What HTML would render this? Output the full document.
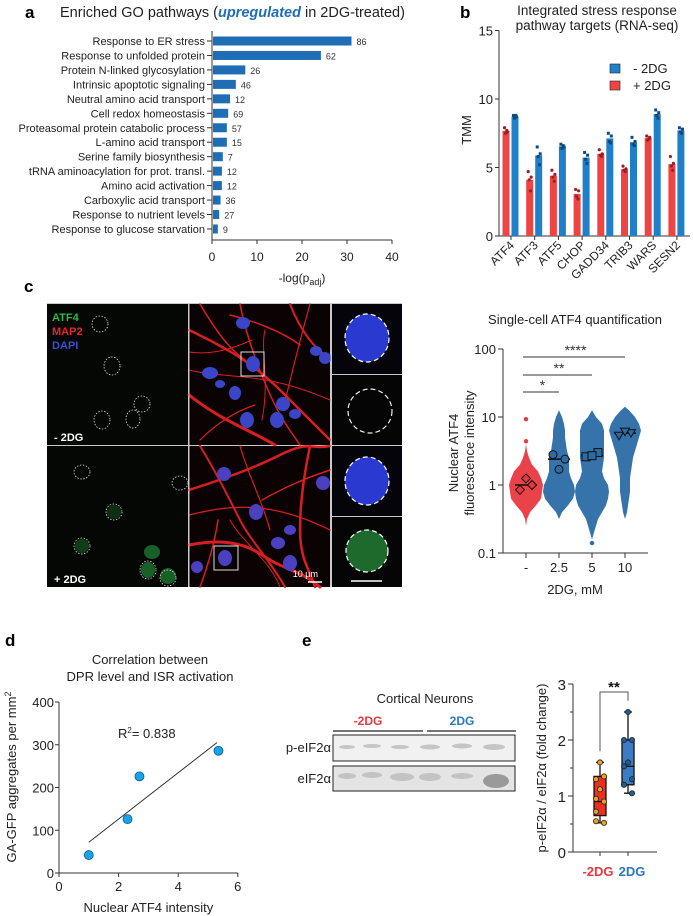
<!DOCTYPE html>
<html><head><meta charset="utf-8">
<style>
html,body{margin:0;padding:0;background:#fff;}
svg{display:block;font-family:"Liberation Sans",Arial,sans-serif;}
</style></head>
<body>
<svg id="fig" width="693" height="916" viewBox="0 0 693 916" xmlns="http://www.w3.org/2000/svg">
<!-- Panel letters -->
<text x="25" y="18" font-size="17" font-weight="bold">a</text>
<text x="460" y="18" font-size="17" font-weight="bold">b</text>
<text x="24" y="292" font-size="17" font-weight="bold">c</text>
<text x="5" y="646" font-size="17" font-weight="bold">d</text>
<text x="302" y="646" font-size="17" font-weight="bold">e</text>

<!-- Panel a title -->
<text x="60" y="17" font-size="14.5" fill="#222">Enriched GO pathways (<tspan fill="#1f6db5" font-weight="bold" font-style="italic">upregulated</tspan> in 2DG-treated)</text>
<g id="pa"></g>

<!-- Panel b -->
<text x="597" y="15" font-size="13.5" text-anchor="middle" fill="#222">Integrated stress response</text>
<text x="597" y="30" font-size="13.5" text-anchor="middle" fill="#222">pathway targets (RNA-seq)</text>
<g id="pb"></g>

<!-- Panel c images -->
<g>
  <rect x="47" y="303" width="355" height="284" fill="#c8c8c8"/>
  <rect x="47" y="304" width="141" height="141" fill="#050705"/>
  <rect x="47" y="446" width="141" height="141" fill="#050705"/>
  <rect x="189" y="304" width="141" height="141" fill="#0a0203"/>
  <rect x="189" y="446" width="141" height="141" fill="#0a0203"/>
  <rect x="332" y="304" width="70" height="70" fill="#04040a"/>
  <rect x="332" y="375" width="70" height="70" fill="#040504"/>
  <rect x="332" y="446" width="70" height="70" fill="#04040a"/>
  <rect x="332" y="517" width="70" height="70" fill="#040504"/>
  <!-- left dashed nuclei top -->
  <g fill="none" stroke="#ddd" stroke-width="0.8" stroke-dasharray="1.5,1.5">
    <ellipse cx="100" cy="324" rx="8" ry="8"/>
    <ellipse cx="112" cy="366" rx="8" ry="9"/>
    <ellipse cx="142" cy="404" rx="8" ry="8"/>
    <ellipse cx="102" cy="420" rx="8" ry="9"/>
    <ellipse cx="133" cy="419" rx="7" ry="9"/>
    <ellipse cx="82" cy="472" rx="8" ry="7"/>
    <ellipse cx="180" cy="483" rx="8" ry="7"/>
    <ellipse cx="114" cy="512" rx="8" ry="8"/>
    <ellipse cx="82" cy="546" rx="8" ry="8"/>
  </g>
  <g fill="#1c6a2a" opacity="0.9">
    <ellipse cx="114" cy="512" rx="7" ry="7" opacity="0.45"/>
    <ellipse cx="82" cy="546" rx="7" ry="7" opacity="0.6"/>
    <ellipse cx="152" cy="552" rx="8" ry="7"/>
    <ellipse cx="148" cy="570" rx="7" ry="8"/>
    <ellipse cx="168" cy="576" rx="8" ry="8"/>
  </g>
  <g fill="none" stroke="#ddd" stroke-width="0.8" stroke-dasharray="1.5,1.5">
    <ellipse cx="148" cy="570" rx="8" ry="9"/><ellipse cx="168" cy="578" rx="8" ry="8"/>
  </g>
  <text x="52" y="321" font-size="11" font-weight="bold" fill="#2db84a">ATF4</text>
  <text x="52" y="335" font-size="11" font-weight="bold" fill="#e8262a">MAP2</text>
  <text x="52" y="349" font-size="11" font-weight="bold" fill="#3b4fd0">DAPI</text>
  <text x="54" y="441" font-size="11" font-weight="bold" fill="#fff">- 2DG</text>
  <text x="54" y="583" font-size="11" font-weight="bold" fill="#fff">+ 2DG</text>
  <!-- neurites top -->
  <g fill="none" stroke="#d81e22" stroke-linecap="round">
    <path d="M189 330 C220 345 250 360 280 390 S320 430 330 440" stroke-width="2.5"/>
    <path d="M200 304 C215 330 230 350 245 360" stroke-width="1.5"/>
    <path d="M189 395 C220 420 250 430 275 445" stroke-width="3"/>
    <path d="M240 304 C245 330 255 360 268 390 S290 430 300 445" stroke-width="1.5"/>
    <path d="M290 304 C300 330 315 350 330 358" stroke-width="2"/>
    <path d="M189 370 C230 380 260 370 330 400" stroke-width="1"/>
    <path d="M230 315 C250 320 280 330 300 345" stroke-width="1.5"/>
    <path d="M310 304 C300 340 290 380 283 410" stroke-width="1.2"/>
    <path d="M200 440 C220 420 240 410 255 405" stroke-width="1.2"/>
    <path d="M265 330 C260 350 270 380 262 420" stroke-width="1"/>
    <path d="M189 352 C210 355 230 350 252 340" stroke-width="1"/>
  </g>
  <g fill="#3a45c8">
    <ellipse cx="243" cy="323" rx="7" ry="6"/>
    <ellipse cx="253" cy="364" rx="7" ry="8"/>
    <ellipse cx="210" cy="373" rx="8" ry="6"/>
    <ellipse cx="220" cy="384" rx="5" ry="4"/>
    <ellipse cx="235" cy="393" rx="6" ry="7"/>
    <ellipse cx="316" cy="351" rx="6" ry="5"/>
    <ellipse cx="325" cy="358" rx="6" ry="6"/>
    <ellipse cx="283" cy="404" rx="7" ry="7"/>
    <ellipse cx="295" cy="414" rx="6" ry="5"/>
    <ellipse cx="247" cy="420" rx="7" ry="8"/>
    <ellipse cx="277" cy="420" rx="7" ry="8"/>
  </g>
  <rect x="241" y="352" width="23" height="24" fill="none" stroke="#ddd" stroke-width="1"/>
  <!-- neurites bottom -->
  <g fill="none" stroke="#d81e22" stroke-linecap="round">
    <path d="M189 490 C220 480 250 470 280 455 S310 450 330 446" stroke-width="2.5"/>
    <path d="M200 446 C215 470 230 500 240 520 S270 560 285 587" stroke-width="2"/>
    <path d="M189 545 C215 540 240 540 262 555 S300 570 320 587" stroke-width="3"/>
    <path d="M310 446 C305 470 300 500 300 530 S310 570 315 587" stroke-width="2.5"/>
    <path d="M189 515 C230 505 270 500 330 530" stroke-width="1.2"/>
    <path d="M240 446 C250 480 262 500 270 530" stroke-width="1.2"/>
    <path d="M280 587 C270 560 240 540 230 520" stroke-width="1"/>
    <path d="M330 470 C300 480 280 490 262 500" stroke-width="1.5"/>
    <path d="M200 587 C210 560 215 540 218 520" stroke-width="1.5"/>
  </g>
  <g fill="#4a40c0">
    <ellipse cx="224" cy="474" rx="7" ry="7"/>
    <ellipse cx="323" cy="483" rx="7" ry="7"/>
    <ellipse cx="256" cy="512" rx="7" ry="8"/>
    <ellipse cx="225" cy="558" rx="7" ry="8"/>
    <ellipse cx="290" cy="530" rx="6" ry="5"/>
    <ellipse cx="278" cy="543" rx="7" ry="6"/>
    <ellipse cx="290" cy="563" rx="7" ry="8"/>
    <ellipse cx="197" cy="567" rx="6" ry="6"/>
  </g>
  <rect x="214" y="546" width="24" height="24" fill="none" stroke="#ddd" stroke-width="1"/>
  <text x="318" y="577" font-size="9" fill="#fff" text-anchor="end">10 µm</text>
  <line x1="308" y1="582" x2="322" y2="582" stroke="#fff" stroke-width="1.5"/>
  <!-- zoom tiles -->
  <ellipse cx="367" cy="338" rx="22" ry="24" fill="#2a3ad0"/>
  <ellipse cx="367" cy="338" rx="22" ry="24" fill="none" stroke="#fff" stroke-width="1.2" stroke-dasharray="5,3"/>
  <ellipse cx="370" cy="411" rx="22" ry="22" fill="none" stroke="#eee" stroke-width="1.2" stroke-dasharray="5,3"/>
  <ellipse cx="367" cy="481" rx="22" ry="24" fill="#2a3ad0"/>
  <ellipse cx="367" cy="481" rx="22" ry="24" fill="none" stroke="#fff" stroke-width="1.2" stroke-dasharray="5,3"/>
  <ellipse cx="367" cy="551" rx="21" ry="21" fill="#1e6a2c"/>
  <ellipse cx="367" cy="551" rx="21" ry="21" fill="none" stroke="#fff" stroke-width="1.2" stroke-dasharray="5,3"/>
  <line x1="351" y1="581" x2="382" y2="581" stroke="#fff" stroke-width="1.5"/>
  <line x1="189" y1="303" x2="189" y2="587" stroke="#ccc" stroke-width="1"/>
  <line x1="331" y1="303" x2="331" y2="587" stroke="#ccc" stroke-width="1"/>
</g>

<!-- Panel c chart -->
<text x="575" y="324" font-size="13" text-anchor="middle" fill="#222">Single-cell ATF4 quantification</text>
<g id="pc"></g>

<!-- Panel d -->
<text x="150" y="664" font-size="13" text-anchor="middle" fill="#222">Correlation between</text>
<text x="150" y="681" font-size="13" text-anchor="middle" fill="#222">DPR level and ISR activation</text>
<g id="pd"></g>

<!-- Panel e blot -->
<g>
  <text x="425" y="703" font-size="13" text-anchor="middle" fill="#222">Cortical Neurons</text>
  <text x="368" y="725" font-size="12" font-weight="bold" text-anchor="middle" fill="#e8383f">-2DG</text>
  <text x="462" y="725" font-size="12" font-weight="bold" text-anchor="middle" fill="#2a78c0">2DG</text>
  <line x1="333" y1="731" x2="423" y2="731" stroke="#222" stroke-width="1.2"/>
  <line x1="427" y1="731" x2="516" y2="731" stroke="#222" stroke-width="1.2"/>
  <rect x="333" y="735" width="182" height="26" fill="#f1f1f1" stroke="#222" stroke-width="1"/>
  <rect x="333" y="766" width="182" height="25" fill="#e4e4e4" stroke="#222" stroke-width="1"/>
  <g fill="#bbb" opacity="0.8">
    <ellipse cx="347" cy="747" rx="8" ry="2"/><ellipse cx="372" cy="746" rx="9" ry="2"/><ellipse cx="400" cy="747" rx="9" ry="2"/>
    <ellipse cx="430" cy="747" rx="10" ry="2.5"/><ellipse cx="462" cy="746" rx="10" ry="2.5"/><ellipse cx="494" cy="747" rx="11" ry="3"/>
    <ellipse cx="347" cy="776" rx="9" ry="3"/><ellipse cx="372" cy="775" rx="10" ry="3"/><ellipse cx="402" cy="777" rx="12" ry="4"/>
    <ellipse cx="430" cy="777" rx="11" ry="4"/><ellipse cx="462" cy="776" rx="11" ry="3"/><ellipse cx="496" cy="781" rx="13" ry="7" fill="#888"/>
  </g>
  <text x="331" y="752" font-size="13" text-anchor="end" fill="#222">p-eIF2α</text>
  <text x="331" y="783" font-size="13" text-anchor="end" fill="#222">eIF2α</text>
</g>
<g id="pe"></g>
</svg>

<script>
// ---------- Panel a data ----------
const goTerms = ["Response to ER stress","Response to unfolded protein","Protein N-linked glycosylation","Intrinsic apoptotic signaling","Neutral amino acid transport","Cell redox homeostasis","Proteasomal protein catabolic process","L-amino acid transport","Serine family biosynthesis","tRNA aminoacylation for prot. transl.","Amino acid activation","Carboxylic acid transport","Response to nutrient levels","Response to glucose starvation"];
const goScores = [31, 24.2, 7.4, 5.3, 4.0, 3.6, 3.3, 3.3, 2.4, 2.2, 2.2, 1.9, 1.6, 1.3];
const goCounts = [86, 62, 26, 46, 12, 69, 57, 15, 7, 12, 12, 36, 27, 9];
const goTicks = [0, 10, 20, 30, 40];

// ---------- Panel b data ----------
const genes = ["ATF4","ATF3","ATF5","CHOP","GADD34","TRIB3","WARS","SESN2"];
const plusReps = [[7.9,7.6,7.5,7.7],[4.7,4.3,4.1,3.3],[4.8,4.5,4.3,4.0],[3.4,3.3,2.9,2.7],[6.3,6.0,5.9,5.8],[5.1,4.9,4.8,4.7],[7.3,7.2,7.0,7.1],[5.8,5.3,5.1,4.8]];
const minusReps = [[8.8,8.7,8.6,8.8],[6.5,6.0,5.8,5.2],[6.7,6.5,6.4,6.6],[6.1,5.9,5.6,5.3],[7.5,7.3,6.9,6.8],[7.2,6.9,6.7,6.6],[9.2,9.0,8.8,8.6],[7.9,7.8,7.6,7.5]];
const tmmTicks = [0, 5, 10, 15];

// ---------- Panel c data ----------
const doseLabels = ["-", "2.5", "5", "10"];
const logLevels = [-0.9,-0.8,-0.7,-0.6,-0.5,-0.4,-0.3,-0.2,-0.1,0,0.1,0.2,0.3,0.4,0.5,0.6,0.7,0.8,0.9,1.0,1.1,1.15];
const density0 = [0,0,0,0,1,4,10,15,16,17,15,12,6,3,1,0,0,0,0,0,0,0];
const density1 = [0,0,0,0,0,3,9,14,16,15,12,10,10,10,8,7,6,6,5,3,0,0];
const density2 = [0,0,2,4,6,10,14,16,17,16,12,10,11,12,12,12,12,12,10,4,0,0];
const density3 = [0,0,0,0,0,2,3,4,5,5,5,6,7,8,10,12,14,16,14,10,4,0];
const outliers0 = [9.3, 4.4];
const outliers2 = [0.14];
const groupMeans = [1.0, 2.4, 2.7, 5.8];
const repMeans0 = [0.85, 1.0, 1.25];
const repMeans1 = [2.8, 2.4, 1.7];
const repMeans2 = [2.6, 3.0, 2.7];
const repMeans3 = [5.3, 5.8, 6.1];
const logTicks = [0.1, 1, 10, 100];
const sigLabels = ["*", "**", "****"];
const sigTargets = [1, 2, 3];

// ---------- Panel d data ----------
const atf4Intensity = [1.0, 2.3, 2.7, 5.35];
const aggregates = [42, 126, 226, 286];
const fitX = [1.0, 5.3];
const fitY = [72, 305];
const dXTicks = [0, 2, 4, 6];
const dYTicks = [0, 100, 200, 300, 400];

// ---------- Panel e data ----------
const eGroups = ["-2DG", "2DG"];
const ePoints0 = [1.6, 1.35, 1.3, 1.12, 0.95, 0.9, 0.72, 0.55, 0.52];
const ePoints1 = [2.5, 2.0, 2.0, 1.6, 1.53, 1.3, 1.2, 1.2, 1.05];
const eBox0 = [0.52, 0.65, 0.9, 1.35, 1.6];
const eBox1 = [1.05, 1.2, 1.53, 2.0, 2.5];
const eTicks = [0, 1, 2, 3];

const NS = "http://www.w3.org/2000/svg";
function mk(parent, tag, attrs, text) {
  const e = document.createElementNS(NS, tag);
  for (const k in attrs) e.setAttribute(k, attrs[k]);
  if (text !== undefined) e.textContent = text;
  parent.appendChild(e);
  return e;
}

// ===== Panel a =====
(function(){
  const g = document.getElementById("pa");
  const x0 = 212, pxPer = 4.5, y0 = 41, step = 14.46;
  const xs = v => x0 + v * pxPer;
  const ys = i => y0 + i * step;
  const ax = mk(g, "line", {x1:x0, y1:31, x2:x0, y2:240, stroke:"#333", "stroke-width":1});
  
  
  const xa = mk(g, "line", {x1:x0, y1:240, x2:xs(40), y2:240, stroke:"#333", "stroke-width":1});
  
  
  goTicks.forEach(t => {
    mk(g, "line", {x1:xs(t), y1:240, x2:xs(t), y2:244, stroke:"#333"});
    const tl = mk(g, "text", {x:xs(t), y:261, "font-size":12, "text-anchor":"middle", fill:"#222"}, t);
    
    
  });
  const xt = mk(g, "text", {x:xs(20), y:282, "font-size":12, "text-anchor":"middle", fill:"#222"});
  
  
  xt.innerHTML = '-log(p<tspan font-size="9" dy="3">adj</tspan><tspan dy="-3">)</tspan>';
  goTerms.forEach((t, i) => {
    const y = ys(i);
    mk(g, "line", {x1:x0-5, y1:y, x2:x0, y2:y, stroke:"#333"});
    const lab = mk(g, "text", {x:x0-7, y:y+4, "font-size":11, "text-anchor":"end", fill:"#222"}, t);
    
    
    const b = mk(g, "rect", {x:x0+1, y:y-4.5, width:Math.max(0, xs(goScores[i]) - x0 - 1), height:9, fill:"#1f6db5"});
    
    
    const c = mk(g, "text", {x:xs(goScores[i]) + 5, y:y+4, "font-size":9, fill:"#333"}, goCounts[i]);
    
    
  });
})();

// ===== Panel b =====
(function(){
  const g = document.getElementById("pb");
  const xAxis = 499, yZero = 236, pxPer = 13.7, x1 = 511, stepX = 23.7;
  const ys = v => yZero - v * pxPer;
  const xs = i => x1 + i * stepX;
  mk(g, "line", {x1:xAxis, y1:ys(15), x2:xAxis, y2:yZero, stroke:"#333"});
  mk(g, "line", {x1:xAxis, y1:yZero, x2:690, y2:yZero, stroke:"#333"});
  tmmTicks.forEach(t => {
    mk(g, "line", {x1:xAxis-4, y1:ys(t), x2:xAxis, y2:ys(t), stroke:"#333"});
    const tl = mk(g, "text", {x:xAxis-6, y:ys(t)+5, "font-size":13, "text-anchor":"end", fill:"#222"}, t);
    
    
  });
  const yl = mk(g, "text", {x:0, y:0, "font-size":13, "text-anchor":"middle", fill:"#222", transform:"translate(471,130) rotate(-90)"}, "TMM");
  
  
  const mean = a => a.reduce((s, v) => s + v, 0) / a.length;
  const jit = [-1.5, 1.5, -0.5, 0.8];
  genes.forEach((gn, i) => {
    const cx = xs(i);
    mk(g, "line", {x1:cx, y1:yZero, x2:cx, y2:yZero+4, stroke:"#333"});
    const rm = mean(plusReps[i]), bm = mean(minusReps[i]);
    const rb = mk(g, "rect", {x:cx-8.5, y:ys(rm), width:7, height:yZero-ys(rm), fill:"#ef4444"});
    
    
    const bb = mk(g, "rect", {x:cx+0.5, y:ys(bm), width:7, height:yZero-ys(bm), fill:"#1f7fc8"});
    
    
    plusReps[i].forEach((v, k) => {
      const d = mk(g, "circle", {cx:cx-5+jit[k], cy:ys(v), r:1.6, fill:"#a31d24"});
      
      
    });
    minusReps[i].forEach((v, k) => {
      const d = mk(g, "rect", {x:cx+4+jit[k]-1.5, y:ys(v)-1.5, width:3, height:3, fill:"#0d4a80"});
      
      
    });
    const lab = mk(g, "text", {x:0, y:0, "font-size":12, "text-anchor":"end", fill:"#222", transform:`translate(${cx+4},${yZero+10}) rotate(-45)`}, gn);
    
    
  });
  const l1 = mk(g, "rect", {x:610, y:64, width:10, height:9, fill:"#1f7fc8", stroke:"#222", "stroke-width":0.6});
  
  
  const l2 = mk(g, "rect", {x:610, y:81, width:10, height:9, fill:"#ef4444", stroke:"#222", "stroke-width":0.6});
  
  
  const t1 = mk(g, "text", {x:633, y:73, "font-size":13, fill:"#222"}, "- 2DG");
  
  
  const t2 = mk(g, "text", {x:633, y:90, "font-size":13, fill:"#222"}, "+ 2DG");
  
  
})();

// ===== Panel c chart =====
(function(){
  const g = document.getElementById("pc");
  const xAxis = 503, yBase = 553, dec = 68, x1 = 526, stepX = 33;
  const ys = v => yBase - (Math.log10(v) + 1) * dec;
  const yl = l => yBase - (l + 1) * dec;
  const xs = i => x1 + i * stepX;
  mk(g, "line", {x1:xAxis, y1:ys(100), x2:xAxis, y2:yBase, stroke:"#333"});
  mk(g, "line", {x1:xAxis, y1:yBase, x2:648, y2:yBase, stroke:"#333"});
  logTicks.forEach(t => {
    mk(g, "line", {x1:xAxis-5, y1:ys(t), x2:xAxis, y2:ys(t), stroke:"#333"});
    const tl = mk(g, "text", {x:xAxis-7, y:ys(t)+5, "font-size":13, "text-anchor":"end", fill:"#222"}, t);
    
    
  });
  const y1t = mk(g, "text", {x:0, y:0, "font-size":13, "text-anchor":"middle", fill:"#222", transform:"translate(458,453) rotate(-90)"}, "Nuclear ATF4");
  
  
  const y2t = mk(g, "text", {x:0, y:0, "font-size":13, "text-anchor":"middle", fill:"#222", transform:"translate(474,453) rotate(-90)"}, "fluorescence intensity");
  
  
  const dens = [density0, density1, density2, density3];
  const cols = ["#e8383f", "#2b6ca6", "#2b6ca6", "#2b6ca6"];
  dens.forEach((d, i) => {
    const cx = xs(i);
    let right = [], left = [];
    logLevels.forEach((l, k) => {
      if (d[k] > 0 || (k > 0 && d[k-1] > 0) || (k < d.length-1 && d[k+1] > 0)) {
        right.push(`${cx + d[k]},${yl(l)}`);
        left.unshift(`${cx - d[k]},${yl(l)}`);
      }
    });
    const p = mk(g, "polygon", {points:right.concat(left).join(" "), fill:cols[i], opacity:0.95});
    
    
    mk(g, "line", {x1:cx, y1:yBase, x2:cx, y2:yBase+5, stroke:"#333"});
    const lab = mk(g, "text", {x:cx, y:yBase+19, "font-size":13, "text-anchor":"middle", fill:"#222"}, doseLabels[i]);
    
    
  });
  outliers0.forEach(v => {
    const c = mk(g, "circle", {cx:xs(0), cy:ys(v), r:2.2, fill:"#e8383f"});
    
    
  });
  outliers2.forEach(v => {
    const c = mk(g, "circle", {cx:xs(2), cy:ys(v), r:2.2, fill:"#2b6ca6"});
    
    
  });
  groupMeans.forEach((m, i) => {
    const ml = mk(g, "line", {x1:xs(i)-11, y1:ys(m), x2:xs(i)+11, y2:ys(m), stroke:"#111", "stroke-width":1.5});
    
    
  });
  const reps = [repMeans0, repMeans1, repMeans2, repMeans3];
  const off = [-6, 6, 0];
  reps.forEach((r, i) => {
    r.forEach((v, k) => {
      const x = xs(i) + off[k], y = ys(v);
      let e;
      if (i === 0) e = mk(g, "polygon", {points:`${x},${y-4.5} ${x+4.5},${y} ${x},${y+4.5} ${x-4.5},${y}`, fill:"#e8383f", stroke:"#111", "stroke-width":1});
      else if (i === 1) e = mk(g, "circle", {cx:x, cy:y, r:4, fill:"#2b6ca6", stroke:"#111", "stroke-width":1});
      else if (i === 2) e = mk(g, "rect", {x:x-4, y:y-4, width:8, height:8, fill:"#2b6ca6", stroke:"#111", "stroke-width":1});
      else e = mk(g, "polygon", {points:`${x-4.5},${y-3.5} ${x+4.5},${y-3.5} ${x},${y+4}`, fill:"#2b6ca6", stroke:"#111", "stroke-width":1});
      
      
    });
  });
  const sigY = [392, 375, 357];
  sigTargets.forEach((t, k) => {
    const l = mk(g, "line", {x1:xs(0)-3, y1:sigY[k], x2:xs(t), y2:sigY[k], stroke:"#333", "stroke-width":1});
    
    
    const s = mk(g, "text", {x:(xs(0)+xs(t))/2, y:sigY[k]-2, "font-size":14, "text-anchor":"middle", fill:"#333"}, sigLabels[k]);
    
    
  });
  const xt = mk(g, "text", {x:575, y:594, "font-size":13, "text-anchor":"middle", fill:"#222"}, "2DG, mM");
  
  
})();

// ===== Panel d =====
(function(){
  const g = document.getElementById("pd");
  const x0 = 59, y0 = 873, px = 29.8, py = 0.4275;
  const xs = v => x0 + v * px;
  const ys = v => y0 - v * py;
  mk(g, "line", {x1:x0, y1:ys(400), x2:x0, y2:y0, stroke:"#333"});
  mk(g, "line", {x1:x0, y1:y0, x2:xs(6), y2:y0, stroke:"#333"});
  dYTicks.forEach(t => {
    mk(g, "line", {x1:x0-4, y1:ys(t), x2:x0, y2:ys(t), stroke:"#333"});
    const tl = mk(g, "text", {x:x0-5, y:ys(t)+5, "font-size":13, "text-anchor":"end", fill:"#222"}, t);
    
    
  });
  dXTicks.forEach(t => {
    mk(g, "line", {x1:xs(t), y1:y0, x2:xs(t), y2:y0+4, stroke:"#333"});
    const tl = mk(g, "text", {x:xs(t), y:y0+18, "font-size":13, "text-anchor":"middle", fill:"#222"}, t);
    
    
  });
  const xt = mk(g, "text", {x:xs(3), y:912, "font-size":13, "text-anchor":"middle", fill:"#222"}, "Nuclear ATF4 intensity");
  
  
  const yt = mk(g, "text", {x:0, y:0, "font-size":13, "text-anchor":"middle", fill:"#222", transform:"translate(16,777) rotate(-90)"});
  
  
  yt.innerHTML = 'GA-GFP aggregates per mm<tspan font-size="9" dy="-5">2</tspan>';
  const fl = mk(g, "line", {x1:xs(fitX[0]), y1:ys(fitY[0]), x2:xs(fitX[1]), y2:ys(fitY[1]), stroke:"#333", "stroke-width":1});
  
  
  atf4Intensity.forEach((v, i) => {
    const c = mk(g, "circle", {cx:xs(v), cy:ys(aggregates[i]), r:4.5, fill:"#1aa3e8", stroke:"#0a5a8a", "stroke-width":0.8});
    
    
  });
  const r2 = mk(g, "text", {x:118, y:738, "font-size":13, fill:"#222"});
  
  
  r2.innerHTML = 'R<tspan font-size="8" dy="-5">2</tspan><tspan dy="5">= 0.838</tspan>';
})();

// ===== Panel e box chart =====
(function(){
  const g = document.getElementById("pe");
  const x0 = 573, y0 = 852, py = 56, x1 = 600, stepX = 28;
  const ys = v => y0 - v * py;
  const xs = i => x1 + i * stepX;
  mk(g, "line", {x1:x0, y1:ys(3), x2:x0, y2:y0, stroke:"#333"});
  mk(g, "line", {x1:x0, y1:y0, x2:657, y2:y0, stroke:"#333"});
  [0.5, 1.5, 2.5].forEach(t => mk(g, "line", {x1:x0-3, y1:ys(t), x2:x0, y2:ys(t), stroke:"#333"}));
  eTicks.forEach(t => {
    mk(g, "line", {x1:x0-5, y1:ys(t), x2:x0, y2:ys(t), stroke:"#333"});
    const tl = mk(g, "text", {x:x0-7, y:ys(t)+6, "font-size":15, "text-anchor":"end", fill:"#222"}, t);
    
    
  });
  const yt = mk(g, "text", {x:0, y:0, "font-size":13, "text-anchor":"middle", fill:"#222", transform:"translate(546,768) rotate(-90)"}, "p-eIF2α / eIF2α (fold change)");
  
  
  const boxes = [eBox0, eBox1], pts = [ePoints0, ePoints1];
  const fills = ["#e8301f", "#3b7cc4"], pcol = ["#f0a020", "#1f5f99"], lcol = ["#e8383f", "#2a78c0"];
  const jit = [0, 4, -4, 0, -4, 4, -4, -4, 4];
  boxes.forEach((b, i) => {
    const cx = xs(i);
    mk(g, "line", {x1:cx, y1:ys(b[0]), x2:cx, y2:ys(b[4]), stroke:"#111", "stroke-width":1.3});
    mk(g, "line", {x1:cx-4, y1:ys(b[0]), x2:cx+4, y2:ys(b[0]), stroke:"#111", "stroke-width":1.3});
    mk(g, "line", {x1:cx-4, y1:ys(b[4]), x2:cx+4, y2:ys(b[4]), stroke:"#111", "stroke-width":1.3});
    const r = mk(g, "rect", {x:cx-6, y:ys(b[3]), width:12, height:ys(b[1])-ys(b[3]), fill:fills[i], stroke:"#111", "stroke-width":1.3});
    
    
    mk(g, "line", {x1:cx-6, y1:ys(b[2]), x2:cx+6, y2:ys(b[2]), stroke:"#111", "stroke-width":1.3});
    pts[i].forEach((v, k) => {
      const c = mk(g, "circle", {cx:cx+jit[k], cy:ys(v), r:2.6, fill:pcol[i], stroke:"#222", "stroke-width":0.8});
      
      
    });
    mk(g, "line", {x1:cx, y1:y0, x2:cx, y2:y0+4, stroke:"#333"});
    const lab = mk(g, "text", {x:cx + (i === 0 ? -2 : 4), y:876, "font-size":13, "font-weight":"bold", "text-anchor":"middle", fill:lcol[i]}, eGroups[i]);
    
    
  });
  const br = mk(g, "path", {d:`M${xs(0)},${ys(1.8)} V692 H${xs(1)} V${ys(2.7)}`, fill:"none", stroke:"#555", "stroke-width":1});
  
  
  const st = mk(g, "text", {x:(xs(0)+xs(1))/2, y:692, "font-size":15, "font-weight":"bold", "text-anchor":"middle", fill:"#111"}, "**");
  
  
})();
</script>
</body></html>
